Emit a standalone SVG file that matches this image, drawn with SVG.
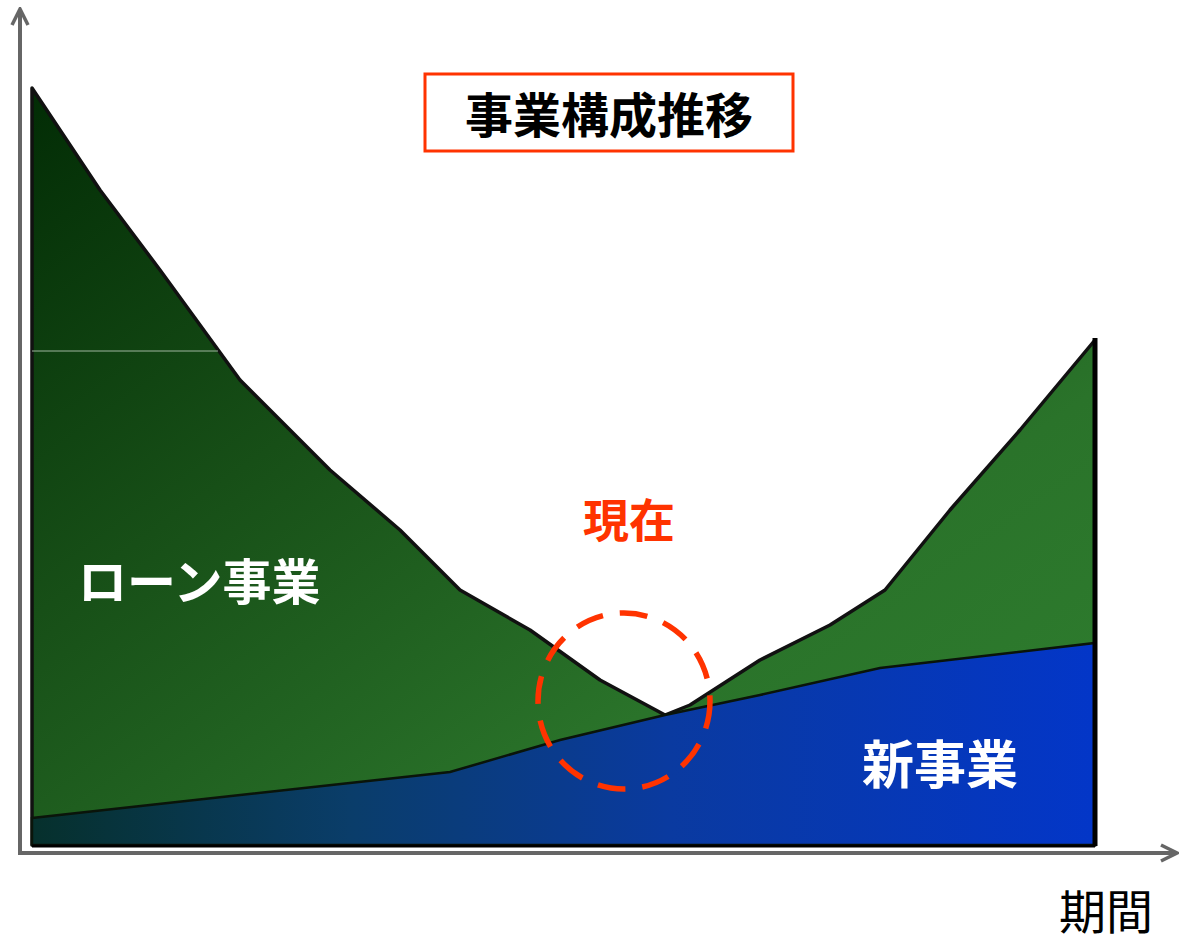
<svg xmlns="http://www.w3.org/2000/svg" width="1182" height="939" viewBox="0 0 1182 939">
<defs>
<linearGradient id="gGreen" x1="0" y1="0" x2="1" y2="1" gradientUnits="objectBoundingBox">
<stop offset="0" stop-color="#022c05"/>
<stop offset="0.35" stop-color="#174f17"/>
<stop offset="0.7" stop-color="#2a732a"/>
<stop offset="1" stop-color="#2f7f2f"/>
</linearGradient>
<linearGradient id="gBlue" x1="0" y1="0" x2="1" y2="0">
<stop offset="0" stop-color="#06302c"/>
<stop offset="0.3" stop-color="#0a3d6a"/>
<stop offset="0.6" stop-color="#0a3aa0"/>
<stop offset="1" stop-color="#0336c8"/>
</linearGradient>
<marker id="arr" viewBox="0 0 20 20" refX="18" refY="10" markerWidth="20" markerHeight="20" markerUnits="userSpaceOnUse" orient="auto">
<path d="M2,2 L18,10 L2,18" fill="none" stroke="#666" stroke-width="3.5"/>
</marker>
<style>
.ax{stroke:#666;stroke-width:4;fill:none}
.lbl{font-family:"Liberation Sans","Noto Sans CJK JP",sans-serif;font-weight:bold}
</style>
</defs>
<g id="areas">
<path id="loan" d="M32,88 L60,130 L100,190 L160,270 L240,380 L330,470 L400,530 L460,590 L530,630 L600,680 L665,715 L690,705 L760,660 L830,625 L885,590 L950,510 L1020,430 L1095,340 L1095,845 L32,845 Z" fill="url(#gGreen)" stroke="#111" stroke-width="3.5" stroke-linejoin="round"/>
<path id="newbiz" d="M32,818 L450,772 L560,740 L665,715 L760,695 L880,668 L1095,643 L1095,845 L32,845 Z" fill="url(#gBlue)" stroke="#0a140a" stroke-width="2.5"/>
<line x1="32" y1="351" x2="218" y2="351" stroke="#9fb59f" stroke-width="1"/>
<line x1="32" y1="846" x2="1095" y2="846" stroke="#000" stroke-width="3"/>
<line x1="1095" y1="338" x2="1095" y2="846" stroke="#000" stroke-width="5"/>
</g>
<g id="axes">
<line class="ax" x1="20" y1="853" x2="20" y2="9" marker-end="url(#arr)"/>
<line class="ax" x1="18" y1="853" x2="1177" y2="853" marker-end="url(#arr)"/>
</g>
<g id="title">
<rect x="425" y="74" width="368" height="77" fill="#fff" stroke="#ff3300" stroke-width="3"/>
<text class="lbl" x="609" y="133" font-size="48" text-anchor="middle" fill="#000">事業構成推移</text>
</g>
<g id="now">
<text class="lbl" x="629" y="537" font-size="46" text-anchor="middle" fill="#ff3300">現在</text>
<ellipse cx="624" cy="701" rx="86" ry="88" fill="none" stroke="#ff3300" stroke-width="5.5" stroke-dasharray="28 17"/>
</g>
<g id="loan-label">
<text class="lbl" x="78" y="600" font-size="49" fill="#fff">ローン事業</text>
</g>
<g id="new-label">
<text class="lbl" x="862" y="784" font-size="52" fill="#fff">新事業</text>
</g>
<g id="xlabel">
<text x="1059" y="929" font-size="47" font-family="'Liberation Sans','Noto Sans CJK JP',sans-serif" fill="#000">期間</text>
</g>
</svg>
